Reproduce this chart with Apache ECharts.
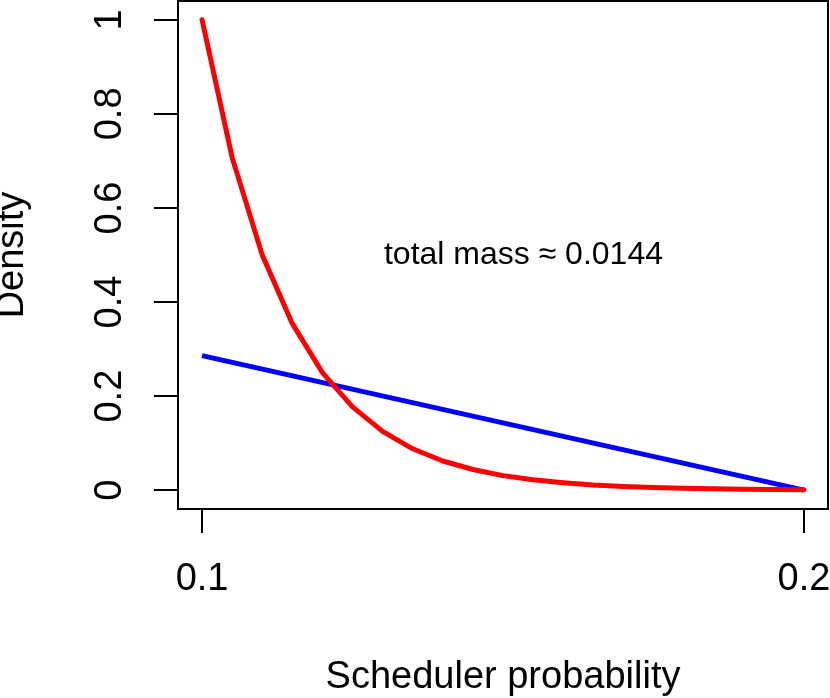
<!DOCTYPE html>
<html>
<head>
<meta charset="utf-8">
<script src="https://cdn.jsdelivr.net/npm/echarts@6/dist/echarts.min.js"></script>
<style>html,body{margin:0;padding:0;background:#fff;}#c{width:830px;height:698px;}</style>
</head>
<body>
<div id="c"></div>
<script>
// Data
const xGrid = [0.100, 0.105, 0.110, 0.115, 0.120, 0.125, 0.130, 0.135, 0.140, 0.145, 0.150,
               0.155, 0.160, 0.165, 0.170, 0.175, 0.180, 0.185, 0.190, 0.195, 0.200];
const redDensity = [1.000, 0.707, 0.500, 0.354, 0.250, 0.177, 0.125, 0.088, 0.062, 0.044, 0.031,
                    0.022, 0.016, 0.011, 0.008, 0.0055, 0.004, 0.0028, 0.002, 0.0014, 0.001];
const blueX = [0.100, 0.200];
const blueDensity = [0.286, 0.000];
const xTicks = [0.1, 0.2];
const xTickLabels = ['0.1', '0.2'];
const yTicks = [0, 0.2, 0.4, 0.6, 0.8, 1];
const yTickLabels = ['0', '0.2', '0.4', '0.6', '0.8', '1'];
const annotationText = 'total mass \u2248 0.0144';
const annotationAt = [0.1534, 0.5];
const xTitle = 'Scheduler probability';
const yTitle = 'Density';

const FONT = 'Liberation Sans, Arial, Helvetica, sans-serif';
const chart = echarts.init(document.getElementById('c'), null, {renderer: 'canvas'});
const fmt = (labels, ticks) => v => {
  for (let i = 0; i < ticks.length; i++) if (Math.abs(v - ticks[i]) < 1e-9) return labels[i];
  return '';
};
chart.setOption({
  animation: false,
  backgroundColor: '#ffffff',
  grid: {left: 178, top: 1, width: 650, height: 508, show: true, borderColor: '#000', borderWidth: 2,
         backgroundColor: 'transparent', containLabel: false, outerBoundsMode: 'none'},
  xAxis: {
    type: 'value', min: 0.096, max: 0.204,
    axisLine: {show: false, onZero: false},
    axisTick: {show: true, length: 24, inside: false, customValues: xTicks, lineStyle: {color: '#000', width: 2}},
    axisLabel: {show: true, customValues: xTicks, formatter: fmt(xTickLabels, xTicks), color: '#000', fontSize: 38, fontFamily: FONT, margin: 52},
    splitLine: {show: false},
    name: xTitle, nameLocation: 'middle', nameGap: 150,
    nameTextStyle: {color: '#000', fontSize: 38, fontFamily: FONT}
  },
  yAxis: {
    type: 'value', min: -0.04, max: 1.04,
    axisLine: {show: false, onZero: false},
    axisTick: {show: true, length: 24, inside: false, customValues: yTicks, lineStyle: {color: '#000', width: 2}},
    axisLabel: {show: true, customValues: yTicks, formatter: fmt(yTickLabels, yTicks), rotate: 90, color: '#000', fontSize: 38, fontFamily: FONT, margin: 48},
    splitLine: {show: false},
    name: yTitle, nameLocation: 'middle', nameGap: 146, nameRotate: 90,
    nameTextStyle: {color: '#000', fontSize: 38, fontFamily: FONT}
  },
  series: [
    {
      type: 'line', data: blueX.map((x, i) => [x, blueDensity[i]]),
      showSymbol: false, symbol: 'none', lineStyle: {color: '#0000ff', width: 5}, z: 2
    },
    {
      type: 'line', data: xGrid.map((x, i) => [x, redDensity[i]]),
      showSymbol: false, symbol: 'none', lineStyle: {color: '#ff0000', width: 5, cap: 'round', join: 'round'}, z: 3,
      markPoint: {
        symbol: 'circle', symbolSize: 0, silent: true,
        label: {show: true, position: 'inside', formatter: annotationText, color: '#000', fontSize: 32, fontFamily: FONT},
        data: [{coord: annotationAt}]
      }
    }
  ]
});
</script>
</body>
</html>
